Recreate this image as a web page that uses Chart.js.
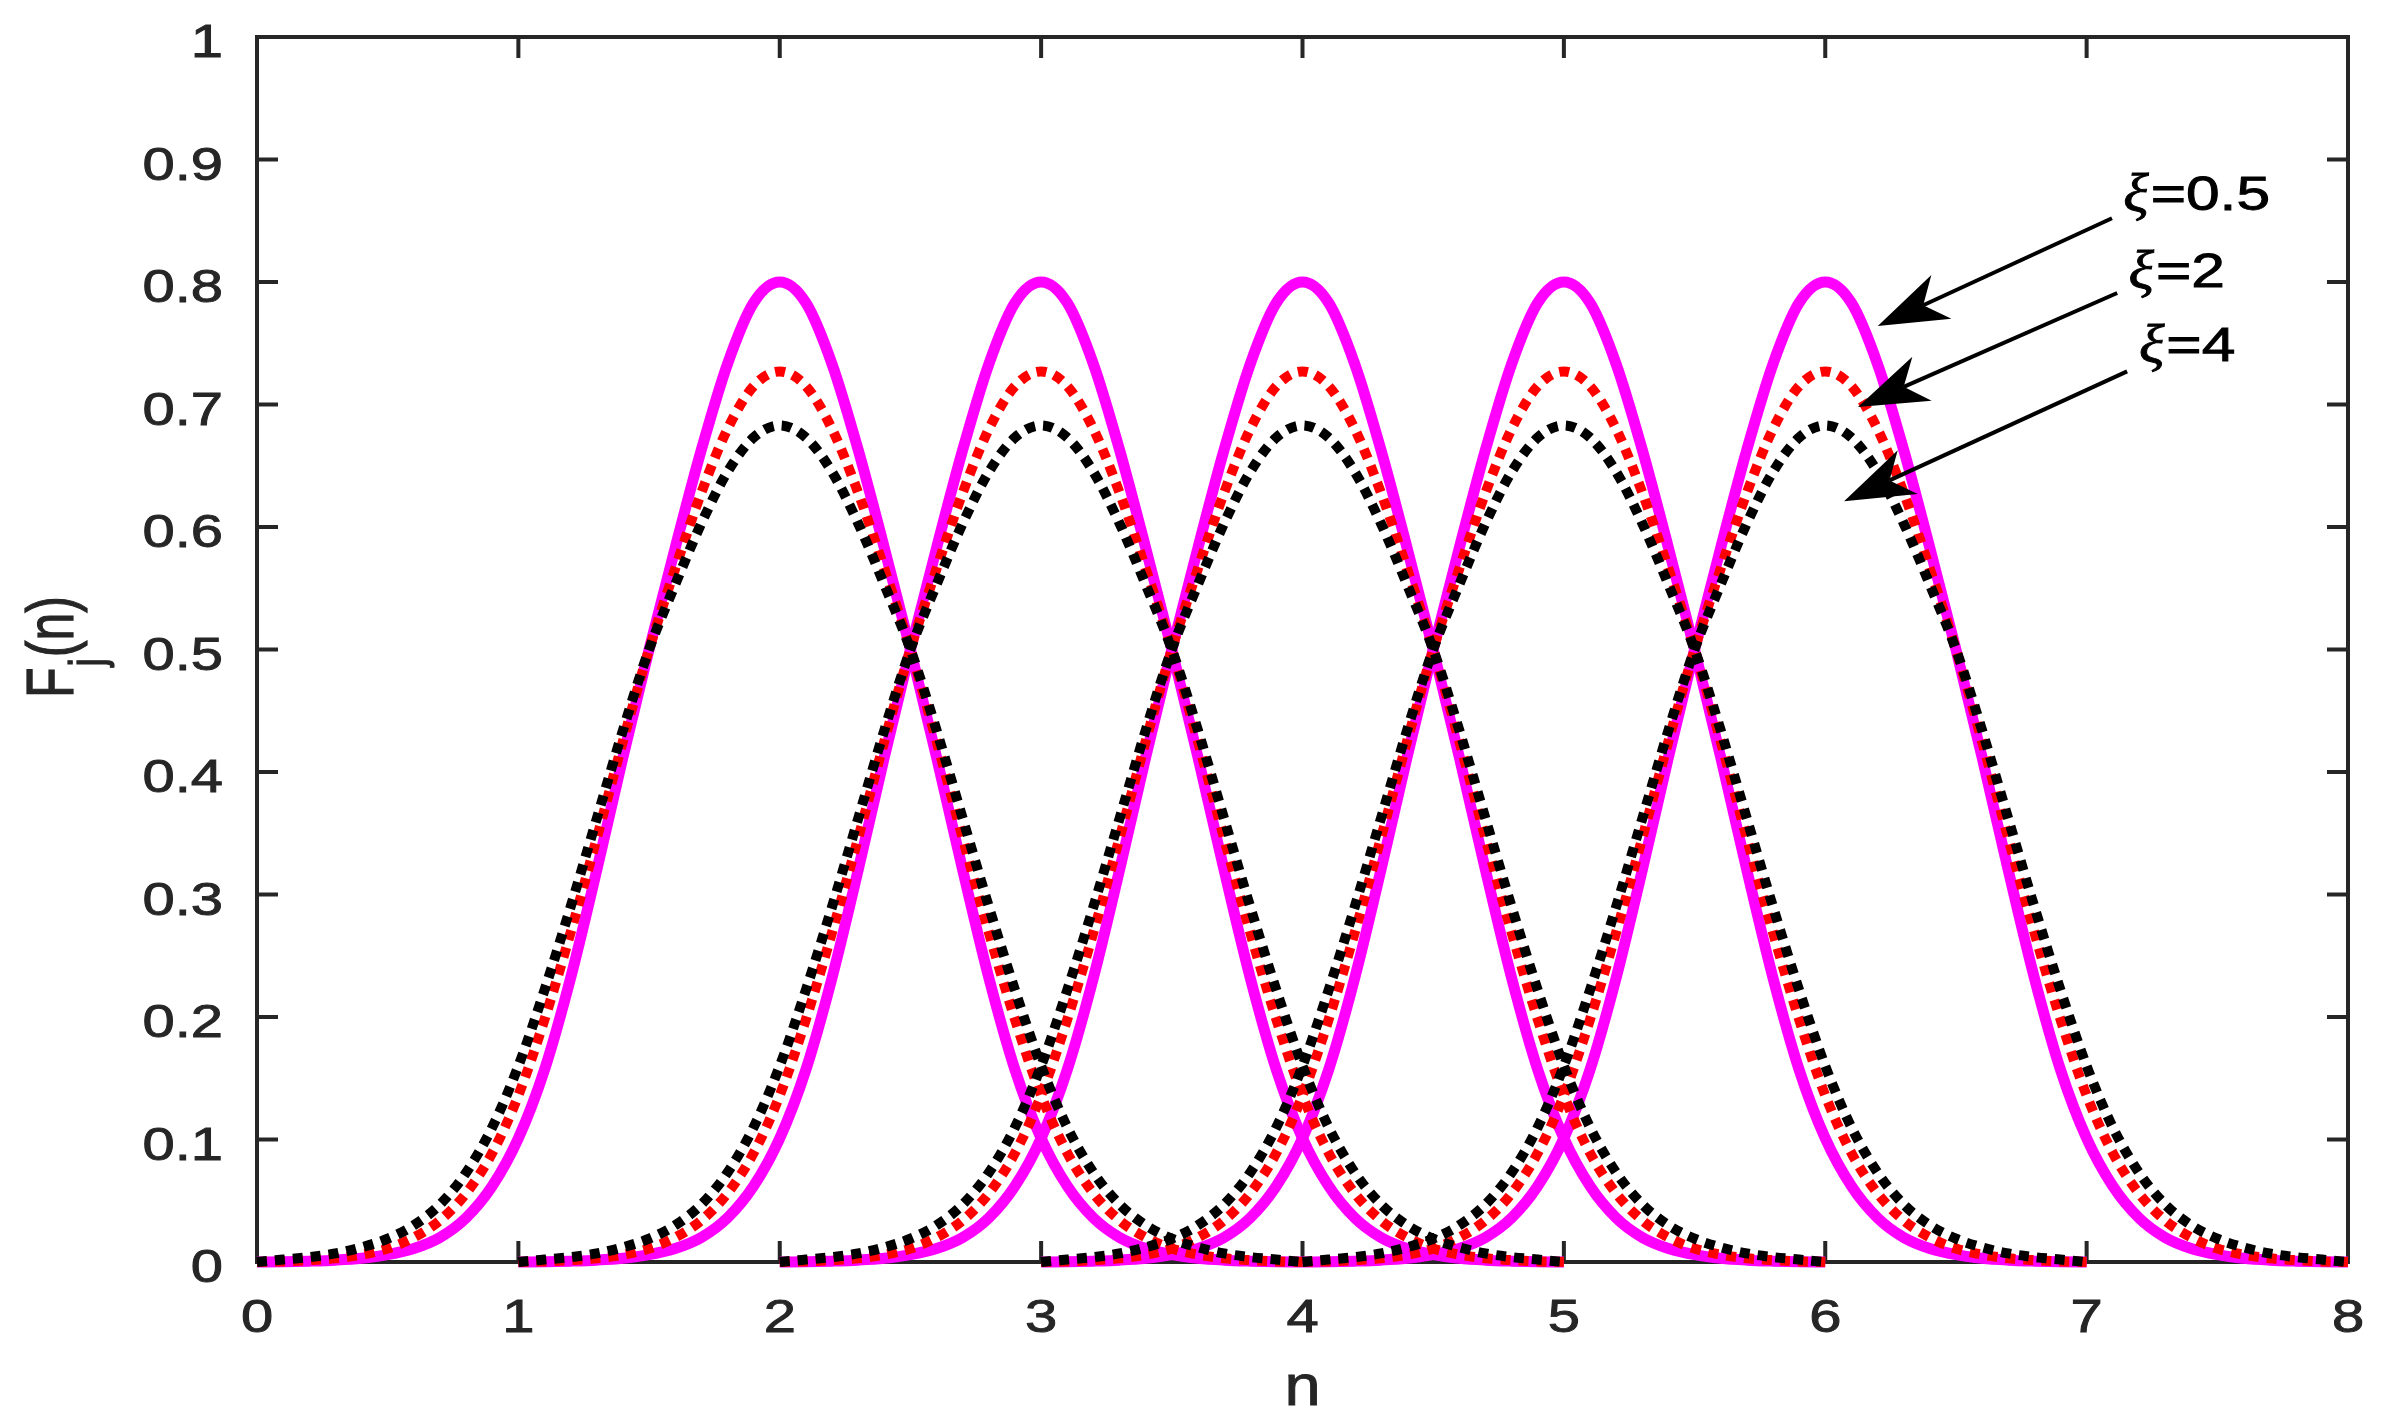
<!DOCTYPE html>
<html lang="ja">
<head>
<meta charset="UTF-8">
<title>F_j(n)</title>
<script src="https://cdn.jsdelivr.net/npm/chart.js@4.4.1/dist/chart.umd.min.js"></script>
<style>
  html, body { margin: 0; padding: 0; background: #fff; }
  #wrap { width: 2383px; height: 1423px; }
</style>
</head>
<body>
<div id="wrap"><canvas id="chart" width="2383" height="1423"></canvas></div>
<script>
// =========================
// データ
// 各山は中心 c から距離 d の位置で同じ形
// =========================
const centers = [2, 3, 4, 5, 6];
const dist = [0, 0.1, 0.2, 0.3, 0.4, 0.5, 0.6, 0.7, 0.8, 0.9, 1.0,
              1.1, 1.2, 1.3, 1.4, 1.5, 1.6, 1.7, 1.8, 1.9, 2.0];

// xi = 0.5 (magenta, solid)
const prof05 = [0.800, 0.783, 0.733, 0.663, 0.583, 0.500, 0.412, 0.320, 0.232, 0.157, 0.101,
                0.062, 0.036, 0.020, 0.011, 0.006, 0.003, 0.0015, 0.0007, 0.0002, 0];
// xi = 2 (red, dotted)
const prof2  = [0.727, 0.715, 0.680, 0.628, 0.566, 0.500, 0.425, 0.346, 0.269, 0.198, 0.136,
                0.089, 0.056, 0.034, 0.020, 0.011, 0.006, 0.003, 0.0015, 0.0005, 0];
// xi = 4 (black, dotted)
const prof4  = [0.683, 0.673, 0.645, 0.603, 0.553, 0.500, 0.434, 0.362, 0.290, 0.222, 0.160,
                0.110, 0.073, 0.047, 0.030, 0.019, 0.012, 0.007, 0.004, 0.002, 0];

const xTicks = [0, 1, 2, 3, 4, 5, 6, 7, 8];
const xTickLabels = ["0", "1", "2", "3", "4", "5", "6", "7", "8"];
const yTicks = [0, 0.1, 0.2, 0.3, 0.4, 0.5, 0.6, 0.7, 0.8, 0.9, 1];
const yTickLabels = ["0", "0.1", "0.2", "0.3", "0.4", "0.5", "0.6", "0.7", "0.8", "0.9", "1"];

// 矢印と注記（データ座標）
const xiLabels = ["0.5", "2", "4"];
const labelPos = [[7.140, 0.873], [7.160, 0.810], [7.200, 0.749]];
const arrowTail = [[7.097, 0.852], [7.117, 0.791], [7.155, 0.727]];
const arrowHead = [[6.201, 0.764], [6.125, 0.698], [6.072, 0.621]];

const AXIS_COLOR = "#262626";
const FONT = "'Liberation Sans', Arial, sans-serif";
const SX = 1.26; // 元の図は文字が横に伸びている

// =========================
// データセット作成
// =========================
function bump(c, prof) {
  const pts = [];
  for (let i = dist.length - 1; i > 0; i--) pts.push({ x: c - dist[i], y: prof[i] });
  for (let i = 0; i < dist.length; i++) pts.push({ x: c + dist[i], y: prof[i] });
  return pts;
}

const series = [
  { prof: prof05, color: "#ff00ff", width: 11, dash: [], order: 3 },
  { prof: prof2,  color: "#ff0000", width: 10, dash: [10, 8], order: 2 },
  { prof: prof4,  color: "#000000", width: 10, dash: [10, 8], order: 1 }
];

const datasets = [];
series.forEach(s => {
  centers.forEach(c => {
    datasets.push({
      data: bump(c, s.prof),
      borderColor: s.color,
      borderWidth: s.width,
      borderDash: s.dash,
      borderCapStyle: "butt",
      pointRadius: 0,
      fill: false,
      cubicInterpolationMode: "monotone",
      order: s.order,
      clip: 20
    });
  });
});

// 横に伸ばした文字（少し太らせる）
function stretchText(ctx, text, x, y, font, align, sx) {
  const k = sx || SX;
  ctx.save();
  ctx.font = font;
  const w = ctx.measureText(text).width * k;
  let x0 = x;
  if (align === "center") x0 = x - w / 2;
  if (align === "right") x0 = x - w;
  ctx.translate(x0, y);
  ctx.scale(k, 1);
  ctx.textAlign = "left";
  ctx.fillText(text, 0, 0);
  ctx.strokeStyle = ctx.fillStyle;
  ctx.lineWidth = 0.9;
  ctx.strokeText(text, 0, 0);
  ctx.restore();
  return w;
}

// =========================
// 枠・目盛り・注記のプラグイン
// =========================
const framePlugin = {
  id: "frame",
  beforeDatasetsDraw(chart) {
    const { ctx, chartArea: a, scales } = chart;
    const tl = 21;
    ctx.save();
    ctx.strokeStyle = AXIS_COLOR;
    ctx.lineWidth = 4;
    ctx.strokeRect(a.left, a.top, a.right - a.left, a.bottom - a.top);
    ctx.beginPath();
    xTicks.forEach(v => {
      const px = scales.x.getPixelForValue(v);
      ctx.moveTo(px, a.bottom); ctx.lineTo(px, a.bottom - tl);
      ctx.moveTo(px, a.top); ctx.lineTo(px, a.top + tl);
    });
    yTicks.forEach(v => {
      const py = scales.y.getPixelForValue(v);
      ctx.moveTo(a.left, py); ctx.lineTo(a.left + tl, py);
      ctx.moveTo(a.right, py); ctx.lineTo(a.right - tl, py);
    });
    ctx.stroke();

    // 目盛りラベル
    ctx.fillStyle = AXIS_COLOR;
    ctx.textBaseline = "alphabetic";
    const tf = "46px " + FONT;
    xTicks.forEach((v, i) => {
      stretchText(ctx, xTickLabels[i], scales.x.getPixelForValue(v), a.bottom + 70, tf, "center");
    });
    yTicks.forEach((v, i) => {
      stretchText(ctx, yTickLabels[i], a.left - 34, scales.y.getPixelForValue(v) + 20, tf, "right");
    });
    ctx.restore();
  },
  afterDatasetsDraw(chart) {
    const { ctx, scales } = chart;
    ctx.save();
    // 矢印
    arrowTail.forEach((t, i) => {
      const x0 = scales.x.getPixelForValue(t[0]);
      const y0 = scales.y.getPixelForValue(t[1]);
      const x1 = scales.x.getPixelForValue(arrowHead[i][0]);
      const y1 = scales.y.getPixelForValue(arrowHead[i][1]);
      const len = Math.hypot(x0 - x1, y0 - y1);
      const ux = (x0 - x1) / len, uy = (y0 - y1) / len;
      const px = -uy, py = ux;
      const L = 70, W = 24, N = 50;
      ctx.strokeStyle = "#000";
      ctx.lineWidth = 4;
      ctx.beginPath();
      ctx.moveTo(x0, y0);
      ctx.lineTo(x1 + ux * N, y1 + uy * N);
      ctx.stroke();
      ctx.fillStyle = "#000";
      ctx.beginPath();
      ctx.moveTo(x1, y1);
      ctx.lineTo(x1 + ux * L + px * W, y1 + uy * L + py * W);
      ctx.lineTo(x1 + ux * N, y1 + uy * N);
      ctx.lineTo(x1 + ux * L - px * W, y1 + uy * L - py * W);
      ctx.closePath();
      ctx.fill();
    });
    // ξ= ラベル
    ctx.fillStyle = "#000";
    ctx.textBaseline = "alphabetic";
    xiLabels.forEach((lab, i) => {
      const x = scales.x.getPixelForValue(labelPos[i][0]);
      const y = scales.y.getPixelForValue(labelPos[i][1]) + 17;
      const w = stretchText(ctx, "\u03be", x, y + 2, "italic 54px 'Liberation Serif', 'DejaVu Serif', serif", "left", 1.1);
      stretchText(ctx, "=" + lab, x + w + 2, y, "48px " + FONT, "left");
    });
    ctx.restore();
  },
  afterDraw(chart) {
    const { ctx, chartArea: a } = chart;
    ctx.save();
    ctx.fillStyle = AXIS_COLOR;
    ctx.textBaseline = "alphabetic";
    // x軸ラベル
    stretchText(ctx, "n", (a.left + a.right) / 2, 1405, "58px " + FONT, "center", 1.12);
    // y軸ラベル F_j(n)
    ctx.translate(73, 648);
    ctx.scale(1.35, 1);
    ctx.rotate(-Math.PI / 2);
    ctx.textAlign = "left";
    ctx.strokeStyle = AXIS_COLOR;
    ctx.lineWidth = 0.9;
    const big = "50px " + FONT, small = "37px " + FONT;
    ctx.font = big;
    const wF = ctx.measureText("F").width;
    const wP = ctx.measureText("(n)").width;
    ctx.font = small;
    const wJ = ctx.measureText("j").width;
    let x = -(wF + wJ + wP) / 2;
    ctx.font = big;
    ctx.fillText("F", x, 0);
    ctx.strokeText("F", x, 0);
    x += wF;
    ctx.font = small;
    ctx.fillText("j", x + 1, 23);
    ctx.strokeText("j", x + 1, 23);
    x += wJ + 2;
    ctx.font = big;
    ctx.fillText("(n)", x, 0);
    ctx.strokeText("(n)", x, 0);
    ctx.restore();
  }
};

// =========================
// グラフ描画
// =========================
new Chart(document.getElementById("chart").getContext("2d"), {
  type: "line",
  data: { datasets: datasets },
  options: {
    responsive: false,
    animation: false,
    devicePixelRatio: 1,
    events: [],
    layout: { padding: { left: 0, right: 35, top: 37, bottom: 0 } },
    plugins: { legend: { display: false }, tooltip: { enabled: false } },
    scales: {
      x: {
        type: "linear",
        min: 0,
        max: 8,
        afterFit: s => { s.height = 161; },
        grid: { display: false },
        border: { display: false },
        ticks: { display: false }
      },
      y: {
        type: "linear",
        min: 0,
        max: 1,
        afterFit: s => { s.width = 257; },
        grid: { display: false },
        border: { display: false },
        ticks: { display: false }
      }
    }
  },
  plugins: [framePlugin]
});
</script>
</body>
</html>
